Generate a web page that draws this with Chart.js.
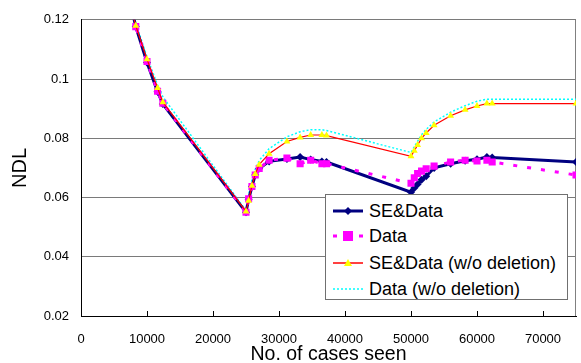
<!DOCTYPE html>
<html>
<head>
<meta charset="utf-8">
<script src="https://cdn.jsdelivr.net/npm/chart.js@4/dist/chart.umd.min.js"></script>
<style>
    body { margin: 0; background: #fff; }
    #wrap { position: relative; width: 581px; height: 363px; }
    #legend {
        position: absolute; left: 325px; top: 194px; width: 241px; height: 104px;
        border: 1px solid #707070; background: #fff;
        font-family: "Liberation Sans", Arial, sans-serif; font-size: 18px; color: #000;
    }
    .row { position: absolute; left: 7px; height: 22px; display: flex; align-items: center; }
    .row svg { margin-right: 6px; }
</style>
</head>
<body>
<div id="wrap">
    <canvas id="ndlChart" width="581" height="363"></canvas>
    <div id="legend"></div>
</div>
<script>
// shared x positions (cases seen)
const casesSeen = [7900, 8300, 10000, 11600, 12400, 25000, 25400, 25900, 26400, 27000, 28500,
    31200, 33200, 34800, 36500, 37200, 50000, 50500, 51000, 51600, 52300, 53500,
    56000, 58200, 60000, 61500, 62300, 75000];

const seData = [0.1215, 0.1177, 0.1056, 0.0957, 0.0916, 0.0550, 0.0594, 0.0637, 0.0676, 0.0698, 0.0722,
    0.0730, 0.0737, 0.0728, 0.0722, 0.0720, 0.0618, 0.0632, 0.0645, 0.0660, 0.0672, 0.0700,
    0.0714, 0.0724, 0.0729, 0.0737, 0.0735, 0.0720];

const dataOnly = [0.1215, 0.1177, 0.1059, 0.0959, 0.0918, 0.0550, 0.0596, 0.0637, 0.0676, 0.0698, 0.0726,
    0.0733, 0.0714, 0.0726, 0.0714, 0.0714, 0.0648, 0.0667, 0.0681, 0.0689, 0.0697, 0.0706,
    0.0720, 0.0726, 0.0723, 0.0726, 0.0720, 0.0676];

const seDataNoDel = [0.1215, 0.1180, 0.1067, 0.0970, 0.0922, 0.0553, 0.0589, 0.0640, 0.0679, 0.0711, 0.0748,
    0.0789, 0.0803, 0.0811, 0.0811, 0.0809, 0.0739, 0.0758, 0.0777, 0.0800, 0.0818, 0.0844,
    0.0876, 0.0896, 0.0909, 0.0917, 0.0917, 0.0917];

const dataNoDel = [0.1225, 0.1188, 0.1075, 0.0980, 0.0940, 0.0556, 0.0610, 0.0660, 0.0695, 0.0725, 0.0765,
    0.0805, 0.0822, 0.0829, 0.0829, 0.0826, 0.0752, 0.0772, 0.0790, 0.0812, 0.0830, 0.0855,
    0.0888, 0.0910, 0.0925, 0.0932, 0.0932, 0.0932];

const xTicks = [0, 10000, 20000, 30000, 40000, 50000, 60000, 70000];
const yTicks = [0.02, 0.04, 0.06, 0.08, 0.1, 0.12];
const yTickLabels = ['0.02', '0.04', '0.06', '0.08', '0.1', '0.12'];

const seriesNames = ['SE&Data', 'Data', 'SE&Data (w/o deletion)', 'Data (w/o deletion)'];

function pts(ys) {
    return casesSeen.map((x, i) => ({ x: x, y: ys[i] }));
}

const fontFam = '"Liberation Sans", Arial, sans-serif';

// frame + inner x ticks
const framePlugin = {
    id: 'frame',
    beforeDatasetsDraw(chart) {
        const a = chart.chartArea;
        const c = chart.ctx;
        c.save();
        c.strokeStyle = '#808080';
        c.lineWidth = 1;
        c.beginPath();
        c.moveTo(a.right - 0.5, a.top);
        c.lineTo(a.right - 0.5, a.bottom);
        c.stroke();
        c.strokeStyle = '#000';
        const xs = chart.scales.x;
        xTicks.forEach(t => {
            const px = Math.round(xs.getPixelForValue(t)) + 0.5;
            c.beginPath();
            c.moveTo(px, a.bottom);
            c.lineTo(px, a.bottom - 5);
            c.stroke();
        });
        c.restore();
    }
};

const ctx = document.getElementById('ndlChart').getContext('2d');
const ndlChart = new Chart(ctx, {
    type: 'line',
    data: {
        datasets: [
            {
                label: seriesNames[0],
                data: pts(seData),
                borderColor: '#000080',
                backgroundColor: '#000080',
                borderWidth: 3,
                pointStyle: 'rectRot',
                pointRadius: 4,
                pointBorderWidth: 0,
                tension: 0,
                order: 3
            },
            {
                label: seriesNames[1],
                data: pts(dataOnly),
                borderColor: '#FF00FF',
                backgroundColor: '#FF00FF',
                borderWidth: 3,
                borderDash: [4, 10],
                pointStyle: 'rect',
                pointRadius: 5,
                pointBorderWidth: 0,
                tension: 0,
                order: 2
            },
            {
                label: seriesNames[2],
                data: pts(seDataNoDel),
                borderColor: '#FF0000',
                backgroundColor: '#FFFF00',
                borderWidth: 1.2,
                pointStyle: 'triangle',
                pointRadius: 4,
                pointBorderWidth: 0,
                tension: 0,
                order: 1
            },
            {
                label: seriesNames[3],
                data: pts(dataNoDel),
                borderColor: '#00FFFF',
                borderWidth: 1.5,
                borderDash: [2, 2],
                pointRadius: 0,
                tension: 0,
                order: 4
            }
        ]
    },
    options: {
        responsive: false,
        animation: false,
        layout: { padding: { top: 16, right: 2, left: 0, bottom: 0 } },
        plugins: {
            legend: { display: false },
            tooltip: { enabled: false }
        },
        scales: {
            x: {
                type: 'linear',
                min: 0,
                max: 75000,
                afterFit(s) { s.height = 47; },
                afterBuildTicks(s) { s.ticks = xTicks.map(v => ({ value: v })); },
                grid: { display: false, drawTicks: false },
                border: { display: true, color: '#000', width: 1 },
                ticks: {
                    color: '#000',
                    padding: 16,
                    maxRotation: 0,
                    font: { family: fontFam, size: 13 },
                    callback: v => String(v)
                },
                title: {
                    display: true,
                    text: 'No. of cases seen',
                    color: '#000',
                    padding: { top: 0, bottom: -3 },
                    font: { family: fontFam, size: 19.5 }
                }
            },
            y: {
                min: 0.02,
                max: 0.12,
                afterFit(s) { s.width = 81; },
                afterBuildTicks(s) { s.ticks = yTicks.map(v => ({ value: v })); },
                grid: { color: '#7a7a7a', drawTicks: false },
                border: { display: true, color: '#000', width: 1 },
                ticks: {
                    color: '#000',
                    padding: 12,
                    font: { family: fontFam, size: 13 },
                    callback: (v, i) => yTickLabels[yTicks.indexOf(v)]
                },
                title: {
                    display: true,
                    text: 'NDL',
                    color: '#000',
                    padding: { top: 8, bottom: 0 },
                    font: { family: fontFam, size: 20 }
                }
            }
        }
    },
    plugins: [framePlugin]
});

// legend as html
const samples = [
    '<svg width="30" height="12"><line x1="0" y1="6" x2="30" y2="6" stroke="#000080" stroke-width="3"/><polygon points="15,2 19,6 15,10 11,6" fill="#000080"/></svg>',
    '<svg width="30" height="12"><line x1="0" y1="6" x2="30" y2="6" stroke="#FF00FF" stroke-width="3" stroke-dasharray="4,9"/><rect x="10" y="1" width="10" height="10" fill="#FF00FF"/></svg>',
    '<svg width="30" height="12"><line x1="0" y1="6" x2="30" y2="6" stroke="#FF0000" stroke-width="1.5"/><polygon points="15,2 19,9 11,9" fill="#FFFF00"/></svg>',
    '<svg width="30" height="12"><line x1="0" y1="6" x2="30" y2="6" stroke="#00FFFF" stroke-width="1.5" stroke-dasharray="2,2"/></svg>'
];
const rowTops = [5, 30, 57, 83];
const legend = document.getElementById('legend');
seriesNames.forEach((name, i) => {
    const row = document.createElement('div');
    row.className = 'row';
    row.style.top = rowTops[i] + 'px';
    row.innerHTML = samples[i] + '<span></span>';
    row.querySelector('span').textContent = name;
    legend.appendChild(row);
});
</script>
</body>
</html>
